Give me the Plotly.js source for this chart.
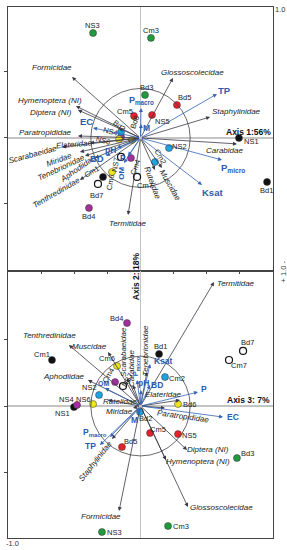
<!DOCTYPE html>
<html><head><meta charset="utf-8">
<script src="https://cdn.plot.ly/plotly-3.0.1.min.js"></script>
<style>html,body{margin:0;padding:0;background:#fff}#chart{width:287px;height:550px}</style>
</head><body><div id="chart"></div>
<script>
// ---------- DATA ----------
const samples = ['NS1','NS2','NS3','NS4','NS5','NS6','NS7',
                 'Cm1','Cm2','Cm3','Cm4','Cm5','Cm6','Cm7',
                 'Bd1','Bd2','Bd3','Bd4','Bd5','Bd6','Bd7'];
// Axis 1 (x) vs Axis 2 (y) scores
const samplesAx1 = [0.743,0.215,-0.358,-0.147,0.087,-0.162,-0.147,
                    -0.283,0.109,0.079,-0.072,-0.049,-0.215,-0.026,
                    0.955,-0.147,0.034,-0.389,0.275,-0.064,-0.321];
const samplesAx2 = [0.0,-0.076,0.795,0.008,0.174,-0.008,-0.144,
                    -0.295,-0.182,0.758,-0.152,0.167,-0.258,-0.295,
                    -0.333,0.045,0.326,-0.530,0.250,-0.015,-0.348];
// Axis 2 (x) vs Axis 3 (y) scores
const samplesB_X = [-0.502,-0.313,-0.291,-0.479,0.283,-0.358,-0.132,
                    -0.668,0.185,0.208,-0.192,0.072,-0.177,0.668,
                    0.140,-0.004,0.728,-0.102,-0.140,0.283,0.774];
const samplesB_Y = [-0.008,0.083,-0.947,0.008,-0.211,0.015,0.150,
                    0.346,0.218,-0.902,0.180,-0.203,0.301,0.346,
                    0.391,-0.045,-0.391,0.624,-0.308,0.015,0.414];

const taxa = ['Formicidae','Hymenoptera (NI)','Diptera (NI)','Paratropididae','Glossoscolecidae',
              'Staphylinidae','Carabidae','Rutelidae','Muscidae','Termitidae','Tenthredinidae',
              'Scarabaeidae','Elateridae','Miridae','Tenebrionidae','Aphodiidae'];
const taxaTopX = [-0.517,-0.487,-0.472,-0.472,0.245,0.525,0.728,0.109,0.162,-0.094,-0.457,-0.592,-0.381,-0.457,-0.419,-0.343];
const taxaTopY = [0.462,0.242,0.212,0.015,0.455,0.159,-0.045,-0.242,-0.227,-0.583,-0.318,-0.068,-0.038,-0.106,-0.136,-0.152];
const taxaBotX = [-0.162,0.192,0.351,0.185,0.358,-0.215,-0.057,-0.245,-0.245,0.555,-0.540,-0.102,0.298,-0.057,0.049,-0.396];
const taxaBotY = [-0.789,-0.406,-0.331,-0.015,-0.759,-0.248,0.158,0.045,0.406,0.932,0.459,0.211,0.045,-0.015,0.256,0.195];

const envVars = ['TP','P<sub>micro</sub>','Ksat','EC','P<sub>macro</sub>','M','pH','BD','OM','P'];
const envTopX = [0.577,0.615,0.464,-0.358,0.004,0.004,-0.177,-0.260,-0.125,-0.094];
const envTopY = [0.333,-0.167,-0.356,0.076,0.227,0.106,-0.076,-0.136,-0.189,-0.136];
const envBotX = [-0.306,-0.026,0.072,0.623,-0.230,-0.019,0.004,0.072,-0.268,0.434];
const envBotY = [-0.293,0.195,0.316,-0.083,-0.233,-0.060,0.120,0.158,0.135,0.105];

const circleR = 0.375;
const axisTitles = ['Axis 1:56%','Axis 2: 18%','Axis 3: 7%'];

// ---------- STYLE ----------
const FONT = 'Liberation Sans, Arial, sans-serif';
const siteFill = {'1':'#111111','2':'#1ea3e3','3':'#1f9a3d','4':'#a2309c','5':'#e5212b','6':'#eee51d','7':'#ffffff'};
const sampleLblTop = [[13,-4,0],[11,1,0],[-1,8,0],[-11,5,15],[10,-7,0],[-16,-1,15],[-5,-8,-80],
  [-11,5,-30],[5,5,60],[0,7,0],[4,-9,-70],[-9,4,0],[-2,-10,-80],[8,-9,0],
  [-1,-9,0],[-2,7,40],[1,7,0],[0,-9,0],[8,7,0],[3,17,-70],[-1,-12,0]];
const sampleLblBot = [[-11,-6,0],[-10,7,0],[13,0,0],[-11,5,0],[11,-1,0],[-10,5,0],[4,6,-60],
  [-10,6,0],[12,-1,0],[13,0,0],[-7,7,-60],[8,4,0],[-10,7,0],[10,-5,0],
  [1,8,0],[6,-6,0],[11,5,0],[-10,5,0],[9,6,0],[11,0,0],[4,8,0]];
const taxaLblTop = [[-20,9,0],[-26,6,0],[-27,-3,0],[-32,3,0],[20,5,0],[26,5,0],[-12,-7,0],[-3,-13,70],
  [8,-18,60],[0,-9,0],[-23,-13,-30],[-29,-8,-15],[-16,-2,-5],[-20,-8,-20],[-23,-12,-25],[-17,-10,-35]];
const taxaLblBot = [[-18,-6,0],[32,-1,0],[21,1,0],[18,-8,8],[34,0,0],[-17,-22,-52],[-2,17,-90],[12,-1,0],
  [-19,6,0],[22,-1,0],[-19,9,0],[-3,26,-90],[-16,6,0],[-13,-3,0],[-1,22,-90],[-24,4,0]];
const envLblTop = [[8,3,0,9.5],[11,-8,0,9.5],[11,-8,0,9.5],[-7,6,0,9.5],[0,7,0,9],[5,-4,0,8.5],[-7,-2,0,8.5],[-9,-3,0,9.5],[-2,-10,-90,8],[-5,-2,0,8.5]];
const envLblBot = [[-9,-1,0,8.5],[-1,13,-90,7.5],[13,3,0,8.5],[10,0,0,8.5],[-15,5,0,8.5],[-3,-6,0,8.5],[2,7,0,8.5],[7,0,0,8.5],[-1,5,0,7],[6,3,0,8.5]];

const ann = [];
function addArrows(xs, ys, xr, yr, color, width) {
  xs.forEach((x,i)=>ann.push({x:x,y:ys[i],ax:0,ay:0,xref:xr,yref:yr,axref:xr,ayref:yr,text:'',
    showarrow:true,arrowhead:2,arrowsize:1,arrowwidth:width,arrowcolor:color,standoff:0,startstandoff:0}));
}
function addLabels(names, xs, ys, st, xr, yr, font) {
  names.forEach((n,i)=>{
    const s = st[i];
    ann.push({x:xs[i],y:ys[i],xref:xr,yref:yr,text:n,showarrow:false,xshift:s[0],yshift:s[1],
      textangle:s[2],xanchor:'center',yanchor:'middle',
      font:Object.assign({}, font, s[3] ? {size:s[3]} : {})});
  });
}
const taxaFont = {family:FONT,size:8,color:'#222',style:'italic'};
const envFont = {family:FONT,size:9,color:'#2c5bb0',weight:'bold'};
const smpFont = {family:FONT,size:7.5,color:'#222'};

addArrows(taxaTopX,taxaTopY,'x','y','#3a3a48',0.8);
addArrows(taxaBotX,taxaBotY,'x2','y2','#3a3a48',0.8);
addArrows(envTopX,envTopY,'x','y','#3464b8',0.8);
addArrows(envBotX,envBotY,'x2','y2','#3464b8',0.8);
addLabels(taxa,taxaTopX,taxaTopY,taxaLblTop,'x','y',taxaFont);
addLabels(taxa,taxaBotX,taxaBotY,taxaLblBot,'x2','y2',taxaFont);
addLabels(envVars,envTopX,envTopY,envLblTop,'x','y',envFont);
addLabels(envVars,envBotX,envBotY,envLblBot,'x2','y2',envFont);
addLabels(samples,samplesAx1,samplesAx2,sampleLblTop,'x','y',smpFont);
addLabels(samples,samplesB_X,samplesB_Y,sampleLblBot,'x2','y2',smpFont);

const bold = {family:FONT,size:8.5,color:'#111',weight:'bold'};
ann.push({xref:'paper',yref:'paper',x:1.0,y:0.765,xanchor:'right',yanchor:'middle',text:axisTitles[0],showarrow:false,font:bold});
ann.push({xref:'paper',yref:'paper',x:0.483,y:0.493,xanchor:'center',yanchor:'middle',textangle:-90,text:axisTitles[1],showarrow:false,font:bold});
ann.push({xref:'paper',yref:'paper',x:0.997,y:0.26,xanchor:'right',yanchor:'middle',text:axisTitles[2],showarrow:false,font:bold});
const small = {family:FONT,size:7.5,color:'#333'};
ann.push({xref:'paper',yref:'paper',x:1.026,y:0.996,xanchor:'center',yanchor:'middle',text:'1.0',showarrow:false,font:small});
ann.push({xref:'paper',yref:'paper',x:1.04,y:0.501,xanchor:'center',yanchor:'middle',textangle:-90,text:'+ 1.0 -',showarrow:false,font:small});
ann.push({xref:'paper',yref:'paper',x:0.018,y:-0.011,xanchor:'center',yanchor:'middle',text:'-1.0',showarrow:false,font:small});

function markerStyle(list){
  const fill = list.map(s=>siteFill[s.slice(-1)]);
  const lc = list.map(s=>s.slice(-1)==='7' ? '#111' : '#333');
  const lw = list.map(s=>s.slice(-1)==='7' ? 1.2 : 0.5);
  return {size:7,color:fill,line:{color:lc,width:lw}};
}
const traces = [
  {x:samplesAx1,y:samplesAx2,xaxis:'x',yaxis:'y',type:'scatter',mode:'markers',marker:markerStyle(samples),cliponaxis:false,hoverinfo:'text',text:samples},
  {x:samplesB_X,y:samplesB_Y,xaxis:'x2',yaxis:'y2',type:'scatter',mode:'markers',marker:markerStyle(samples),cliponaxis:false,hoverinfo:'text',text:samples}
];
const dom = 0.5028;
const axBase = {showgrid:false,zeroline:true,zerolinecolor:'#c4c4c4',zerolinewidth:1.5,showline:true,mirror:true,
  linecolor:'#444',linewidth:1,showticklabels:false,fixedrange:true};
const layout = {
  width:287,height:550,margin:{l:8,r:14,t:7,b:12},paper_bgcolor:'#fff',plot_bgcolor:'#fff',showlegend:false,
  xaxis:Object.assign({},axBase,{domain:[0,1],range:[-1,1],anchor:'y',ticks:''}),
  yaxis:Object.assign({},axBase,{domain:[dom,1],range:[-1.008,0.992],anchor:'x',ticks:'outside',ticklen:3,tickcolor:'#444',tickvals:[-0.5,0,0.5]}),
  xaxis2:Object.assign({},axBase,{domain:[0,1],range:[-1,1],anchor:'y2',side:'top',ticks:'inside',ticklen:3,tickcolor:'#444',tickvals:[-0.75,-0.5,-0.25,0.25,0.5,0.75]}),
  yaxis2:Object.assign({},axBase,{domain:[0,dom],range:[-0.992,1.015],anchor:'x2',ticks:'outside',ticklen:3,tickcolor:'#444',tickvals:[-0.5,0,0.5]}),
  shapes:[
    {type:'circle',xref:'x',yref:'y',x0:-circleR,x1:circleR,y0:-circleR,y1:circleR,line:{color:'#444',width:0.8}},
    {type:'circle',xref:'x2',yref:'y2',x0:-circleR,x1:circleR,y0:-circleR,y1:circleR,line:{color:'#444',width:0.8}}
  ],
  annotations:ann
};
Plotly.newPlot('chart',traces,layout,{staticPlot:true,displayModeBar:false});
</script></body></html>
